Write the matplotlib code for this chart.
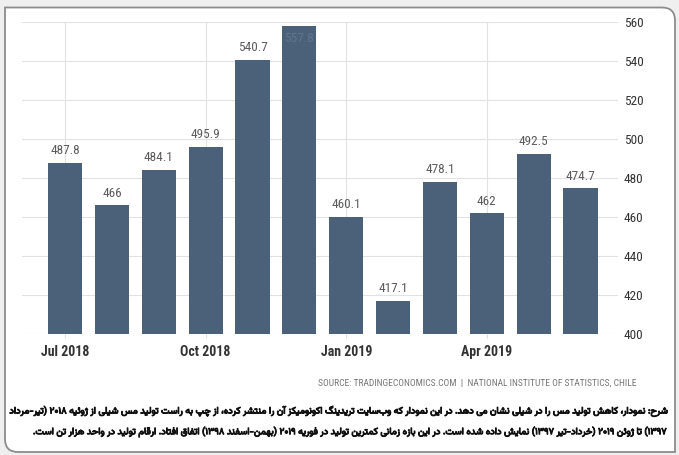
import re
import matplotlib
matplotlib.use('Agg')
from matplotlib import pyplot as plt
from matplotlib import font_manager
from matplotlib import patheffects
from matplotlib.path import Path
from matplotlib.patches import PathPatch

#%% datos
meses = ['Jul 2018', 'Aug 2018', 'Sep 2018', 'Oct 2018', 'Nov 2018', 'Dec 2018',
         'Jan 2019', 'Feb 2019', 'Mar 2019', 'Apr 2019', 'May 2019', 'Jun 2019']
produccion = [487.8, 466, 484.1, 495.9, 540.7, 557.8, 460.1, 417.1, 478.1, 462, 492.5, 474.7]
etiquetas_x = ['Jul 2018', 'Oct 2018', 'Jan 2019', 'Apr 2019']
ticks_y = [400, 420, 440, 460, 480, 500, 520, 540, 560]
fuente = 'SOURCE: TRADINGECONOMICS.COM  |  NATIONAL INSTITUTE OF STATISTICS, CHILE'
leyenda_fa = ['شرح: نمودار، کاهش تولید مس را در شیلی نشان می دهد. در این نمودار که وب\u200cسایت تریدینگ اکونومیکز آن را منتشر کرده، از چپ به راست تولید مس شیلی از ژوئیه ۲۰۱۸ (تیر-مرداد',
              '۱۳۹۷) تا ژوئن ۲۰۱۹ (خرداد-تیر ۱۳۹۷) نمایش داده شده است. در این بازه زمانی کمترین تولید در فوریه ۲۰۱۹ (بهمن-اسفند ۱۳۹۸) اتفاق افتاد. ارقام تولید در واحد هزار تن است.']

#%% formas de presentacion arabe/persa (aislada, final, inicial, media)
FORMAS = {
    'ا': ('\uFE8D', '\uFE8E', None, None), 'آ': ('\uFE81', '\uFE82', None, None),
    'د': ('\uFEA9', '\uFEAA', None, None), 'ذ': ('\uFEAB', '\uFEAC', None, None),
    'ر': ('\uFEAD', '\uFEAE', None, None), 'ز': ('\uFEAF', '\uFEB0', None, None),
    'ژ': ('\uFB8A', '\uFB8B', None, None), 'و': ('\uFEED', '\uFEEE', None, None),
    'ب': ('\uFE8F', '\uFE90', '\uFE91', '\uFE92'), 'پ': ('\uFB56', '\uFB57', '\uFB58', '\uFB59'),
    'ت': ('\uFE95', '\uFE96', '\uFE97', '\uFE98'), 'ج': ('\uFE9D', '\uFE9E', '\uFE9F', '\uFEA0'),
    'چ': ('\uFB7A', '\uFB7B', '\uFB7C', '\uFB7D'), 'ح': ('\uFEA1', '\uFEA2', '\uFEA3', '\uFEA4'),
    'خ': ('\uFEA5', '\uFEA6', '\uFEA7', '\uFEA8'), 'س': ('\uFEB1', '\uFEB2', '\uFEB3', '\uFEB4'),
    'ش': ('\uFEB5', '\uFEB6', '\uFEB7', '\uFEB8'), 'ف': ('\uFED1', '\uFED2', '\uFED3', '\uFED4'),
    'ق': ('\uFED5', '\uFED6', '\uFED7', '\uFED8'), 'ک': ('\uFB8E', '\uFB8F', '\uFB90', '\uFB91'),
    'گ': ('\uFB92', '\uFB93', '\uFB94', '\uFB95'), 'ل': ('\uFEDD', '\uFEDE', '\uFEDF', '\uFEE0'),
    'م': ('\uFEE1', '\uFEE2', '\uFEE3', '\uFEE4'), 'ن': ('\uFEE5', '\uFEE6', '\uFEE7', '\uFEE8'),
    'ه': ('\uFEE9', '\uFEEA', '\uFEEB', '\uFEEC'), 'ی': ('\uFBFC', '\uFBFD', '\uFBFE', '\uFBFF'),
    'ئ': ('\uFE89', '\uFE8A', '\uFE8B', '\uFE8C'),
}
LAM_ALEF = {'ا': ('\uFEFB', '\uFEFC'), 'آ': ('\uFEF5', '\uFEF6')}


def unir(texto):
    """da forma a las letras y devuelve el texto en orden visual (derecha a izquierda)"""
    c = list(texto)
    out = []
    i = 0
    while i < len(c):
        ch = c[i]
        if ch not in FORMAS:
            if ch != '\u200c':
                out.append(ch)
            i += 1
            continue
        prev = c[i-1] if i > 0 else ''
        nxt = c[i+1] if i+1 < len(c) else ''
        une_prev = prev in FORMAS and FORMAS[prev][2] is not None
        if ch == 'ل' and nxt in LAM_ALEF:
            out.append(LAM_ALEF[nxt][1 if une_prev else 0])
            i += 2
            continue
        une_next = nxt in FORMAS and FORMAS[ch][2] is not None
        iso, fin, ini, med = FORMAS[ch]
        if une_prev and une_next:
            out.append(med)
        elif une_prev:
            out.append(fin)
        elif une_next:
            out.append(ini)
        else:
            out.append(iso)
        i += 1
    vis = ''.join(out)[::-1]
    vis = re.sub(r'[0-9\u06F0-\u06F9]+', lambda m: m.group(0)[::-1], vis) # numeros de izq a der
    return vis.translate(str.maketrans('()', ')('))


#%% fuentes
nombres = {f.name for f in font_manager.fontManager.ttflist}
def primera(lista):
    for n in lista:
        if n in nombres:
            return n
    return 'DejaVu Sans'
f_num = primera(['Roboto Condensed', 'Liberation Sans Narrow', 'Open Sans Condensed', 'Roboto'])
f_fa = primera(['Vazirmatn', 'Noto Naskh Arabic', 'Noto Sans Arabic', 'DejaVu Sans'])

W, H = 679, 455
fig = plt.figure(figsize=(W/100, H/100), dpi=100, facecolor='#efefef')

# marco con esquinas redondeadas (arriba derecha y abajo izquierda)
L, R, T, B, r = 5, 675, 7.5, 452, 13
px = lambda x, y: (x/W, 1 - y/H)
verts = [px(L, T), px(R - r, T), px(R, T), px(R, T + r), px(R, B), px(L + r, B), px(L, B), px(L, B - r), px(L, T)]
codes = [Path.MOVETO, Path.LINETO, Path.CURVE3, Path.CURVE3, Path.LINETO, Path.LINETO, Path.CURVE3, Path.CURVE3, Path.CLOSEPOLY]
marco = PathPatch(Path(verts, codes), transform=fig.transFigure, facecolor='white', edgecolor='#8c8c8c', lw=1.3, zorder=-10)
fig.patches.append(marco)

ax = fig.add_axes([22/W, 1 - 334/H, (618-22)/W, (334-22)/H])
ax.set_facecolor('none')
x = list(range(len(meses)))
barras = ax.bar(x, produccion, width=0.73, color='#4b6079', zorder=2)

for i, v in enumerate(produccion):
    if v > 550: # no cabe arriba, va dentro de la barra
        ax.annotate(f'{v:g}', (i, v), xytext=(0, -4), textcoords='offset points', ha='center', va='top',
                    fontsize=9.5, family=f_num, color='#62758c', zorder=3)
    else:
        ax.annotate(f'{v:g}', (i, v), xytext=(0, 4), textcoords='offset points', ha='center', va='bottom',
                    fontsize=9.5, family=f_num, color='#5c5c5c', zorder=3)

ax.set_xlim(-0.92, 11.8)
ax.set_ylim(400, 560)
ax.set_xticks([meses.index(m) for m in etiquetas_x])
ax.set_xticklabels(etiquetas_x, fontsize=10, family=f_num, fontweight='bold', color='#333333')
ax.yaxis.tick_right()
ax.set_yticks(ticks_y)
ax.set_yticklabels([str(t) for t in ticks_y], fontsize=9.5, family=f_num, color='#333333')
ax.tick_params(axis='y', length=0, pad=4)
ax.tick_params(axis='x', length=3, color='#dddddd', pad=5)
ax.grid(True, color='#e2e2e2', lw=0.8, zorder=0)
for s in ax.spines.values():
    s.set_visible(False)

# fuente de datos
fig.text(636/W, 1 - 383/H, fuente, ha='right', va='center', fontsize=6.8, family=f_num, color='#777777')

# leyenda en persa, ajustada al ancho
negrita = [patheffects.withStroke(linewidth=0.7, foreground='#111111')]
fig.canvas.draw()
rend = fig.canvas.get_renderer()
t1 = fig.text(667/W, 1 - 411/H, unir(leyenda_fa[0]), ha='right', va='center', fontsize=8,
              family=f_fa, fontweight='bold', color='#111111', path_effects=negrita)
ancho = t1.get_window_extent(rend).width
tam = 8 * 660 / ancho
t1.set_fontsize(tam)
fig.text(667/W, 1 - 432/H, unir(leyenda_fa[1]), ha='right', va='center', fontsize=tam,
         family=f_fa, fontweight='bold', color='#111111', path_effects=negrita)

plt.savefig('out.png', dpi=100, facecolor=fig.get_facecolor())
